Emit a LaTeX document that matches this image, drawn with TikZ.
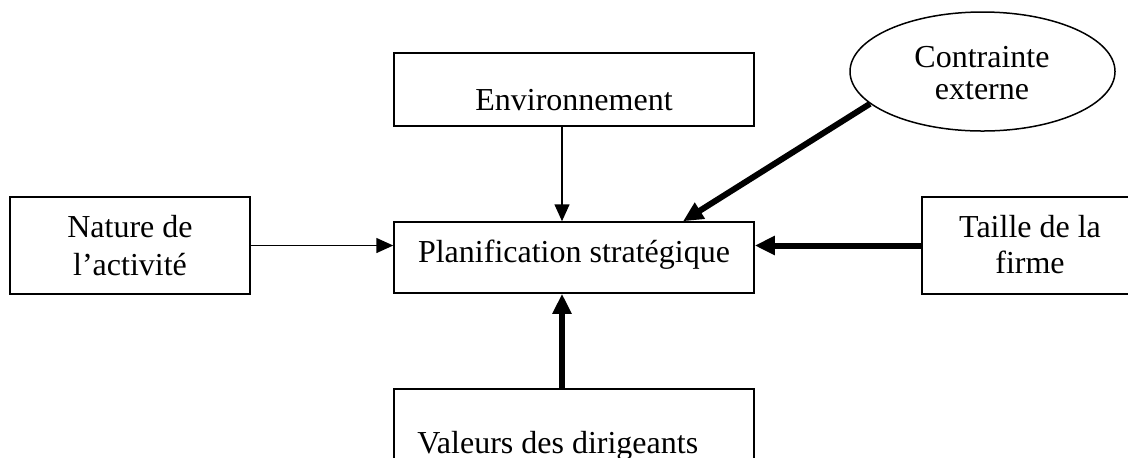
\documentclass[tikz,border=0pt]{standalone}
\usepackage{fontspec}
\setmainfont{Liberation Serif}
\usetikzlibrary{arrows.meta,shapes.geometric,calc}
\begin{document}
\begin{tikzpicture}[x=0.5pt,y=-0.5pt,
  box/.style={draw,line width=0.75pt,rectangle,inner sep=0pt},
  oval/.style={draw,line width=0.75pt,ellipse,inner sep=0pt},
  lbl/.style={inner sep=0pt,align=center},
  thinarrow/.style={line width=0.75pt,-{Triangle[length=8.5pt,width=7.5pt]}},
  thickarrow/.style={line width=3pt,-{Triangle[length=10pt,width=9pt]}}]
\useasboundingbox (0,0) rectangle (1128,457);
\clip (0,0) rectangle (1128,457);
% boxes
\node[box,minimum width=180pt,minimum height=36.5pt] (env) at (574,89.5) {};
\node[box,minimum width=180pt,minimum height=35.5pt] (plan) at (574,257.5) {};
\node[box,minimum width=120pt,minimum height=48.5pt] (nat) at (130,245.5) {};
\node[box,minimum width=108pt,minimum height=48.5pt] (tai) at (1030,245.5) {};
\node[box,minimum width=180pt,minimum height=50pt] (val) at (574,439) {};
\node[oval,minimum width=132.5pt,minimum height=59.5pt] (ell) at (982.5,71.5) {};
% texts
\node[lbl,anchor=base,font=\fontsize{16}{19}\selectfont] (envt) at (574,110) {Environnement};
\node[lbl,anchor=base,font=\fontsize{16}{19}\selectfont] (plant) at (574,262) {Planification stratégique};
\node[lbl,font=\fontsize{16}{19}\selectfont] (natt) at (130,246) {Nature de\\l’activité};
\node[lbl,font=\fontsize{16}{18}\selectfont] (tait) at (1030,244.5) {Taille de la\\firme};
\node[lbl,font=\fontsize{16}{16}\selectfont] (ellt) at (982,73.5) {Contrainte\\externe};
\node[lbl,anchor=base west,font=\fontsize{16}{19}\selectfont] (valt) at (417,453) {Valeurs des dirigeants};
% connectors
\draw[thinarrow] ($(env.south)+(-12,0)$) -- ($(plan.north)+(-12,0)$);
\draw[thinarrow] (nat.east) -- (nat.east -| plan.west);
\draw[thickarrow] (tai.west) -- (tai.west -| plan.east);
\draw[thickarrow] ($(val.north)+(-12,0)$) -- ($(plan.south)+(-12,0)$);
\draw[thickarrow] (ell.196) -- ($(plan.north)+(109,0)$);
\end{tikzpicture}
\end{document}
